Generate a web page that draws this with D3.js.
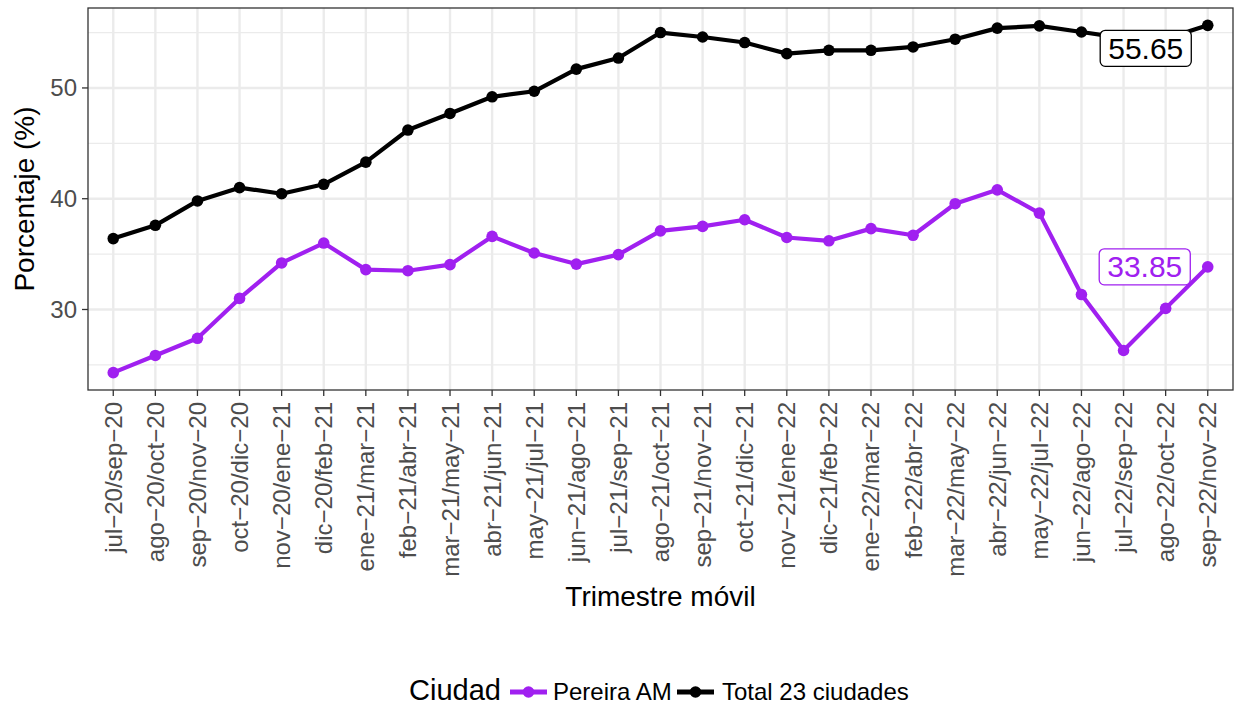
<!DOCTYPE html>
<html><head><meta charset="utf-8">
<script src="https://cdn.jsdelivr.net/npm/d3@7"></script>
<style>body{margin:0;background:#fff}svg{display:block}text{font-family:"Liberation Sans",Arial,sans-serif}</style>
</head><body>
<svg id="c" width="1236" height="706"></svg>
<script>
const categories = ["jul−20/sep−20","ago−20/oct−20","sep−20/nov−20","oct−20/dic−20","nov−20/ene−21","dic−20/feb−21","ene−21/mar−21","feb−21/abr−21","mar−21/may−21","abr−21/jun−21","may−21/jul−21","jun−21/ago−21","jul−21/sep−21","ago−21/oct−21","sep−21/nov−21","oct−21/dic−21","nov−21/ene−22","dic−21/feb−22","ene−22/mar−22","feb−22/abr−22","mar−22/may−22","abr−22/jun−22","may−22/jul−22","jun−22/ago−22","jul−22/sep−22","ago−22/oct−22","sep−22/nov−22"];
const pereira = [24.3,25.85,27.4,31.0,34.2,36.0,33.6,33.5,34.05,36.6,35.1,34.1,34.95,37.1,37.5,38.1,36.5,36.2,37.3,36.7,39.55,40.8,38.7,31.35,26.3,30.1,33.85];
const total = [36.4,37.6,39.8,41.0,40.45,41.3,43.3,46.2,47.7,49.2,49.7,51.7,52.7,55.0,54.6,54.1,53.1,53.4,53.4,53.7,54.4,55.4,55.6,55.05,54.5,54.45,55.65];
const yTicks = [30,40,50];
const yMinor = [25,35,45,55];
const seriesNames = ["Pereira AM","Total 23 ciudades"];
const seriesColors = ["#A020F0","#000000"];

const svg = d3.select("#c");
const L=88,R=1233,T=8,B=390;
const x = d3.scalePoint().domain(categories).range([L,R]).padding(0.6);
const allV = pereira.concat(total);
const ext = d3.extent(allV), pad=(ext[1]-ext[0])*0.05;
const y = d3.scaleLinear().domain([ext[0]-pad, ext[1]+pad]).range([B,T]);

svg.append("rect").attr("x",L).attr("y",T).attr("width",R-L).attr("height",B-T).attr("fill","#fff");
const g = svg.append("g");
g.selectAll(".mn").data(yMinor).join("line").attr("x1",L).attr("x2",R).attr("y1",d=>y(d)).attr("y2",d=>y(d)).attr("stroke","#ebebeb").attr("stroke-width",1.2);
g.selectAll(".mj").data(yTicks).join("line").attr("x1",L).attr("x2",R).attr("y1",d=>y(d)).attr("y2",d=>y(d)).attr("stroke","#ebebeb").attr("stroke-width",2.4);
g.selectAll(".vx").data(categories).join("line").attr("x1",d=>x(d)).attr("x2",d=>x(d)).attr("y1",T).attr("y2",B).attr("stroke","#ebebeb").attr("stroke-width",2.4);

const series=[pereira,total];
const line = d3.line().x((d,i)=>x(categories[i])).y(d=>y(d));
series.forEach((s,k)=>{
  svg.append("path").datum(s).attr("d",line).attr("fill","none").attr("stroke",seriesColors[k]).attr("stroke-width",4.2).attr("stroke-linejoin","round");
  svg.append("g").selectAll("circle").data(s).join("circle").attr("cx",(d,i)=>x(categories[i])).attr("cy",d=>y(d)).attr("r",5.8).attr("fill",seriesColors[k]);
});

function lab(val,color,dx,dy){
  const cx=x(categories[categories.length-1])+dx, cy=y(val)+dy;
  const gg=svg.append("g");
  const t=gg.append("text").attr("x",cx).attr("y",cy).attr("text-anchor","middle").attr("dominant-baseline","central").attr("font-size",30).attr("fill",color).text(val.toFixed(2));
  const bb=t.node().getBBox();
  gg.insert("rect","text").attr("x",bb.x-8).attr("y",cy-18).attr("width",bb.width+16).attr("height",36).attr("rx",5).attr("fill","#fff").attr("stroke",color).attr("stroke-width",1.3);
}
lab(total[total.length-1],"#000",-62,23);
lab(pereira[pereira.length-1],"#A020F0",-63,0);

svg.append("rect").attr("x",L).attr("y",T).attr("width",R-L).attr("height",B-T).attr("fill","none").attr("stroke","#333").attr("stroke-width",1.3);

const ya=svg.append("g");
ya.selectAll("line").data(yTicks).join("line").attr("x1",L-6).attr("x2",L).attr("y1",d=>y(d)).attr("y2",d=>y(d)).attr("stroke","#333").attr("stroke-width",1.3);
ya.selectAll("text").data(yTicks).join("text").attr("x",L-11).attr("y",d=>y(d)).attr("text-anchor","end").attr("dominant-baseline","central").attr("font-size",24).attr("fill","#4d4d4d").text(d=>d);
const xa=svg.append("g");
xa.selectAll("line").data(categories).join("line").attr("x1",d=>x(d)).attr("x2",d=>x(d)).attr("y1",B).attr("y2",B+6).attr("stroke","#333").attr("stroke-width",1.3);
xa.selectAll("text").data(categories).join("text").attr("transform",d=>`translate(${x(d)},${B+12}) rotate(-90)`).attr("text-anchor","end").attr("dominant-baseline","central").attr("font-size",24).attr("fill","#4d4d4d").text(d=>d);

svg.append("text").attr("transform",`translate(34,${(T+B)/2}) rotate(-90)`).attr("text-anchor","middle").attr("font-size",28).attr("fill","#000").text("Porcentaje (%)");
svg.append("text").attr("x",(L+R)/2).attr("y",606).attr("text-anchor","middle").attr("font-size",28).attr("fill","#000").text("Trimestre móvil");

const lg=svg.append("g");
lg.append("text").attr("x",409).attr("y",700).attr("font-size",29).text("Ciudad");
const keyX=[510,677], txtX=[553,722];
seriesNames.forEach((n,k)=>{
  lg.append("line").attr("x1",keyX[k]).attr("x2",keyX[k]+37).attr("y1",692).attr("y2",692).attr("stroke",seriesColors[k]).attr("stroke-width",5);
  lg.append("circle").attr("cx",keyX[k]+18.5).attr("cy",692).attr("r",5.8).attr("fill",seriesColors[k]);
  lg.append("text").attr("x",txtX[k]).attr("y",700).attr("font-size",24).text(n);
});
</script>
</body></html>
